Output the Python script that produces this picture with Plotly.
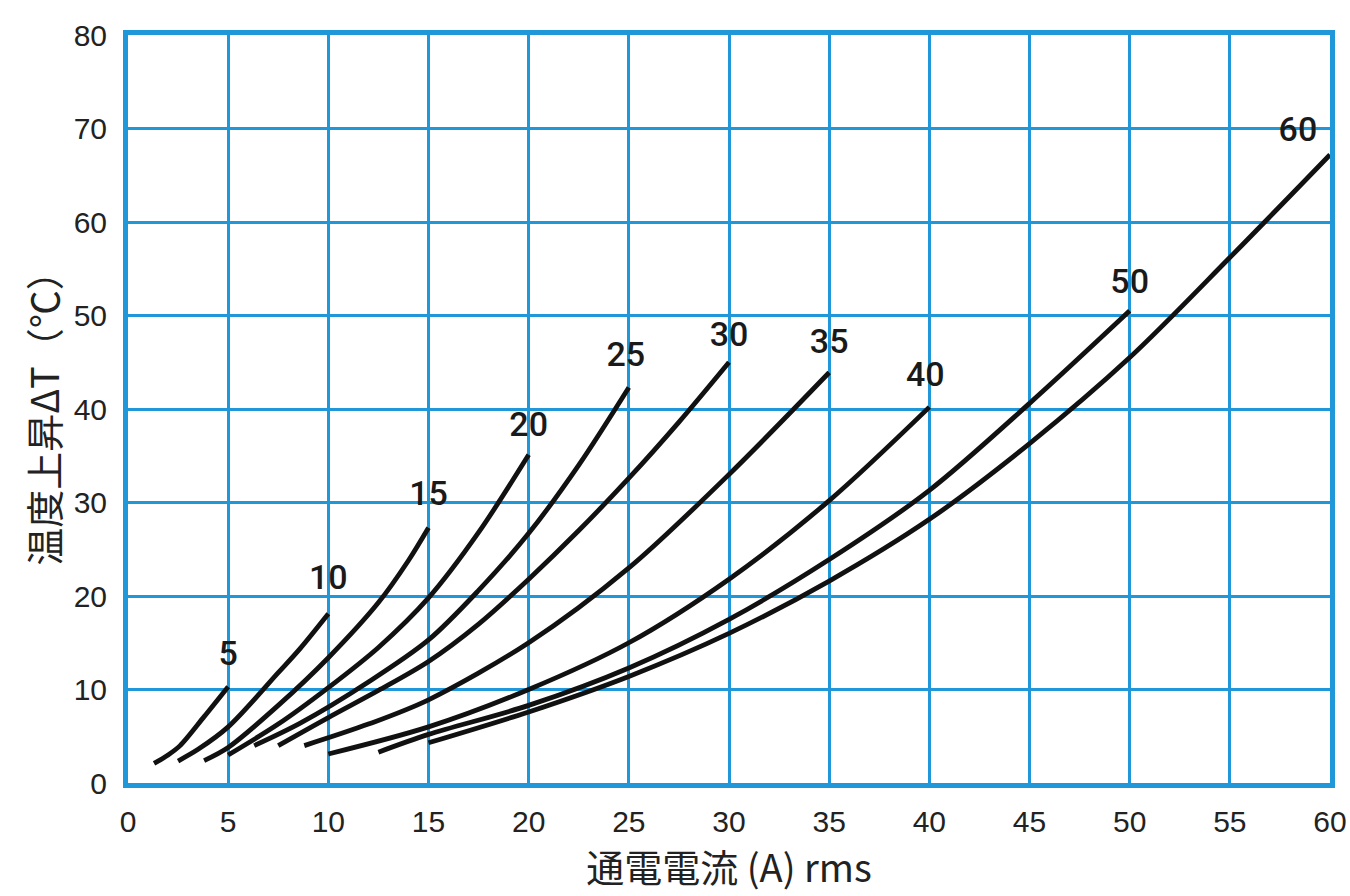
import plotly.graph_objects as go

# Rated current of each curve and its (current, temperature rise) points
ratings = [5, 10, 15, 20, 25, 30, 35, 40, 50, 60]

curve_5_x = [1.3, 2.0, 2.6, 3.8, 5.0]
curve_5_y = [2.1, 3.0, 4.0, 7.1, 10.3]

curve_10_x = [2.5, 3.5, 5.0, 7.5, 8.6, 10.0]
curve_10_y = [2.35, 3.6, 6.0, 11.8, 14.4, 18.1]

curve_15_x = [3.8, 5.0, 7.5, 10.0, 12.5, 14.0, 15.0]
curve_15_y = [2.4, 3.8, 8.3, 13.4, 19.3, 23.8, 27.3]

curve_20_x = [5.0, 7.5, 10.0, 12.5, 15.0, 17.5, 20.0]
curve_20_y = [3.0, 6.3, 10.2, 14.5, 19.8, 26.8, 35.1]

curve_25_x = [6.3, 8.6, 12.0, 15.0, 17.5, 20.0, 22.5, 25.0]
curve_25_y = [4.0, 6.4, 10.8, 15.3, 20.6, 26.7, 34.0, 42.3]

curve_30_x = [7.5, 10.0, 12.5, 15.0, 17.5, 20.0, 22.5, 25.0, 27.5, 30.0]
curve_30_y = [4.0, 7.0, 9.9, 13.0, 17.0, 21.8, 27.0, 32.6, 38.6, 45.0]

curve_35_x = [8.8, 12.0, 15.0, 20.0, 25.0, 30.0, 35.0]
curve_35_y = [4.0, 6.3, 8.9, 15.0, 23.0, 33.0, 43.9]

curve_40_x = [10.0, 15.0, 20.0, 25.0, 30.0, 35.0, 40.0]
curve_40_y = [3.1, 6.0, 10.0, 15.0, 21.8, 30.2, 40.2]

curve_50_x = [12.5, 15.0, 20.0, 25.0, 30.0, 35.0, 40.0, 45.0, 50.0]
curve_50_y = [3.3, 5.2, 8.3, 12.3, 17.5, 23.9, 31.3, 40.6, 50.5]

curve_60_x = [15.0, 20.0, 25.0, 30.0, 35.0, 40.0, 45.0, 50.0, 55.0, 60.0]
curve_60_y = [4.3, 7.6, 11.4, 16.0, 21.6, 28.2, 36.3, 45.5, 56.2, 67.2]

curves_x = [curve_5_x, curve_10_x, curve_15_x, curve_20_x, curve_25_x,
            curve_30_x, curve_35_x, curve_40_x, curve_50_x, curve_60_x]
curves_y = [curve_5_y, curve_10_y, curve_15_y, curve_20_y, curve_25_y,
            curve_30_y, curve_35_y, curve_40_y, curve_50_y, curve_60_y]

# Position of each rating label
label_x = [5.0, 10.0, 15.0, 20.0, 24.85, 30.0, 35.0, 39.8, 50.0, 58.4]
label_y = [13.5, 21.7, 30.6, 38.0, 45.5, 47.6, 46.9, 43.4, 53.3, 69.6]

x_ticks = list(range(0, 61, 5))
y_ticks = list(range(0, 81, 10))

GRID = "#1f97d9"
INK = "#111111"

fig = go.Figure()
for cx, cy in zip(curves_x, curves_y):
    fig.add_trace(go.Scatter(
        x=cx, y=cy, mode="lines",
        line=dict(color=INK, width=4.8, shape="spline", smoothing=0.9),
        showlegend=False, hoverinfo="skip",
    ))

fig.add_trace(go.Scatter(
    x=label_x, y=label_y, mode="text",
    text=[str(r) for r in ratings],
    textfont=dict(family="Roboto, Liberation Sans, Arial, sans-serif",
                  size=34, color="#1a1a1a", weight=500),
    showlegend=False, hoverinfo="skip",
))

tick_font = dict(family="Liberation Sans, Arial, sans-serif", size=30, color="#222222")
title_font = dict(family="Noto Sans CJK JP, Liberation Sans, sans-serif",
                  size=38, color="#222222")

fig.update_xaxes(
    range=[0, 60], tickvals=x_ticks, ticktext=[str(v) for v in x_ticks],
    showgrid=True, gridcolor=GRID, gridwidth=3,
    showline=True, linecolor=GRID, linewidth=5, mirror=True,
    zeroline=False, ticks="", tickfont=tick_font, ticklabelstandoff=8,
    automargin=False,
    title=dict(text="通電電流 (A) rms", font=title_font, standoff=2),
)
fig.update_yaxes(
    range=[0, 80], tickvals=y_ticks, ticktext=[str(v) for v in y_ticks],
    showgrid=True, gridcolor=GRID, gridwidth=3,
    showline=True, linecolor=GRID, linewidth=5, mirror=True,
    zeroline=False, ticks="", tickfont=tick_font, ticklabelstandoff=10,
    automargin=False,
    title=dict(text="温度上昇ΔT（℃）", font=title_font, standoff=4),
)

fig.update_layout(
    width=1350, height=896,
    margin=dict(l=128, r=20, t=35, b=113),
    paper_bgcolor="white", plot_bgcolor="white",
)

fig.write_html("out.html")
